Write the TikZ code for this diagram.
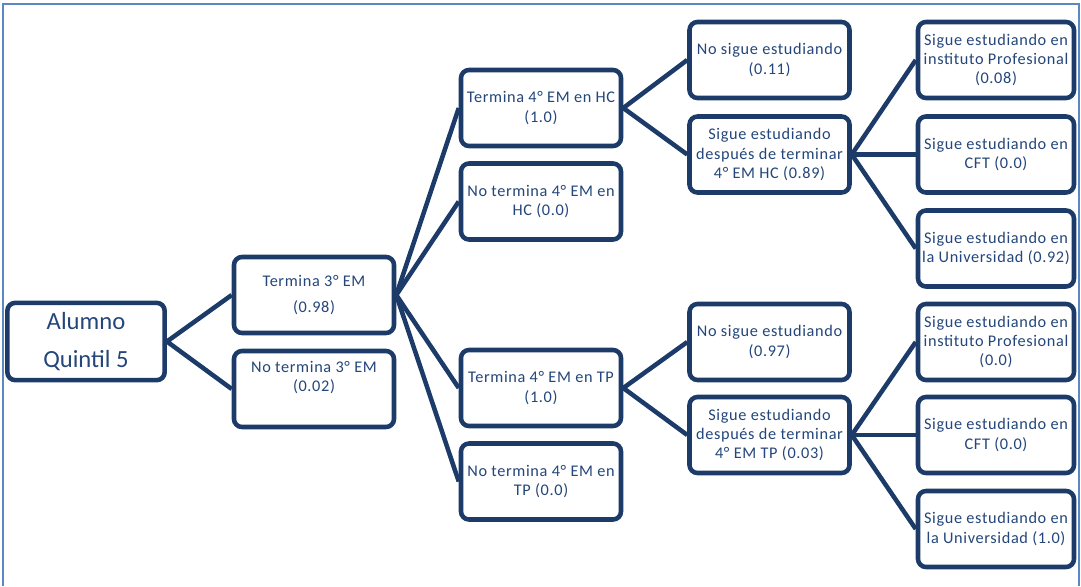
\documentclass[tikz,border=0pt]{standalone}
\usepackage{fontspec}
\setmainfont[LetterSpace=4]{Carlito}
\newfontfamily\bigfont{Carlito}
\definecolor{boxline}{HTML}{1D3B69}
\definecolor{boxtext}{HTML}{24467A}
\definecolor{framecol}{HTML}{5B87C2}
\begin{document}
\begin{tikzpicture}[x=0.75pt,y=-0.75pt,
    box/.style={draw=boxline, line width=3.4pt, rounded corners=6pt, fill=white,
      text=boxtext, align=center, minimum width=120pt, minimum height=57pt,
      inner sep=1pt, font=\fontsize{12.2}{14.6}\selectfont},
    link/.style={draw=boxline, line width=3.4pt}]
  \useasboundingbox (0,0) rectangle (1081,586);
  % Frame
  \draw[framecol, line width=1.5pt] (3,586) -- (3,3.5) -- (1079,3.5) -- (1079,586);
  % Root
  \node[box, minimum width=118pt, minimum height=58pt, font=\bigfont\fontsize{18.5}{28.5}\selectfont]
    (alumno) at (86,341.5) {Alumno\\Quintil 5};
  % Third year
  \node[box] (t3) at (314,295) {Termina 3° EM\\[5pt](0.98)};
  \node[box] (nt3) at (314,389) {No termina 3° EM\\(0.02)\\[4pt]};
  % Fourth year
  \node[box] (t4hc) at (541,108) {Termina 4° EM  en HC\\(1.0)};
  \node[box] (nt4hc) at (541,201.5) {No termina 4° EM  en\\HC (0.0)};
  \node[box] (t4tp) at (541,388) {Termina 4° EM  en TP\\(1.0)};
  \node[box] (nt4tp) at (541,481.5) {No termina 4° EM  en\\TP (0.0)};
  % After fourth year
  \node[box] (nshc) at (769.5,60) {No sigue estudiando\\(0.11)};
  \node[box] (shc) at (769.5,154.5) {Sigue estudiando\\después de terminar\\4° EM  HC (0.89)};
  \node[box] (nstp) at (769.5,342) {No sigue estudiando\\(0.97)};
  \node[box] (stp) at (769.5,435) {Sigue estudiando\\después de terminar\\4° EM  TP (0.03)};
  % Studies
  \node[box, minimum width=117pt] (iphc) at (996,60) {Sigue estudiando en\\instituto Profesional\\(0.08)};
  \node[box, minimum width=117pt] (cfthc) at (996,154.5) {Sigue estudiando en\\CFT  (0.0)};
  \node[box, minimum width=117pt] (unihc) at (996,248.5) {Sigue estudiando en\\la Universidad (0.92)};
  \node[box, minimum width=117pt] (iptp) at (996,342) {Sigue estudiando en\\instituto Profesional\\(0.0)};
  \node[box, minimum width=117pt] (cfttp) at (996,435) {Sigue estudiando en\\CFT  (0.0)};
  \node[box, minimum width=117pt] (unitp) at (996,529) {Sigue estudiando en\\la Universidad (1.0)};
  % Links
  \draw[link] (t3.west) -- (alumno.east) -- (nt3.west);
  \foreach \n in {t4hc,nt4hc,t4tp,nt4tp}
    \draw[link] (t3.east) -- (\n.west);
  \draw[link] (nshc.west) -- (t4hc.east) -- (shc.west);
  \draw[link] (nstp.west) -- (t4tp.east) -- (stp.west);
  \foreach \n in {iphc,cfthc,unihc}
    \draw[link] (shc.east) -- (\n.west);
  \foreach \n in {iptp,cfttp,unitp}
    \draw[link] (stp.east) -- (\n.west);
\end{tikzpicture}
\end{document}
